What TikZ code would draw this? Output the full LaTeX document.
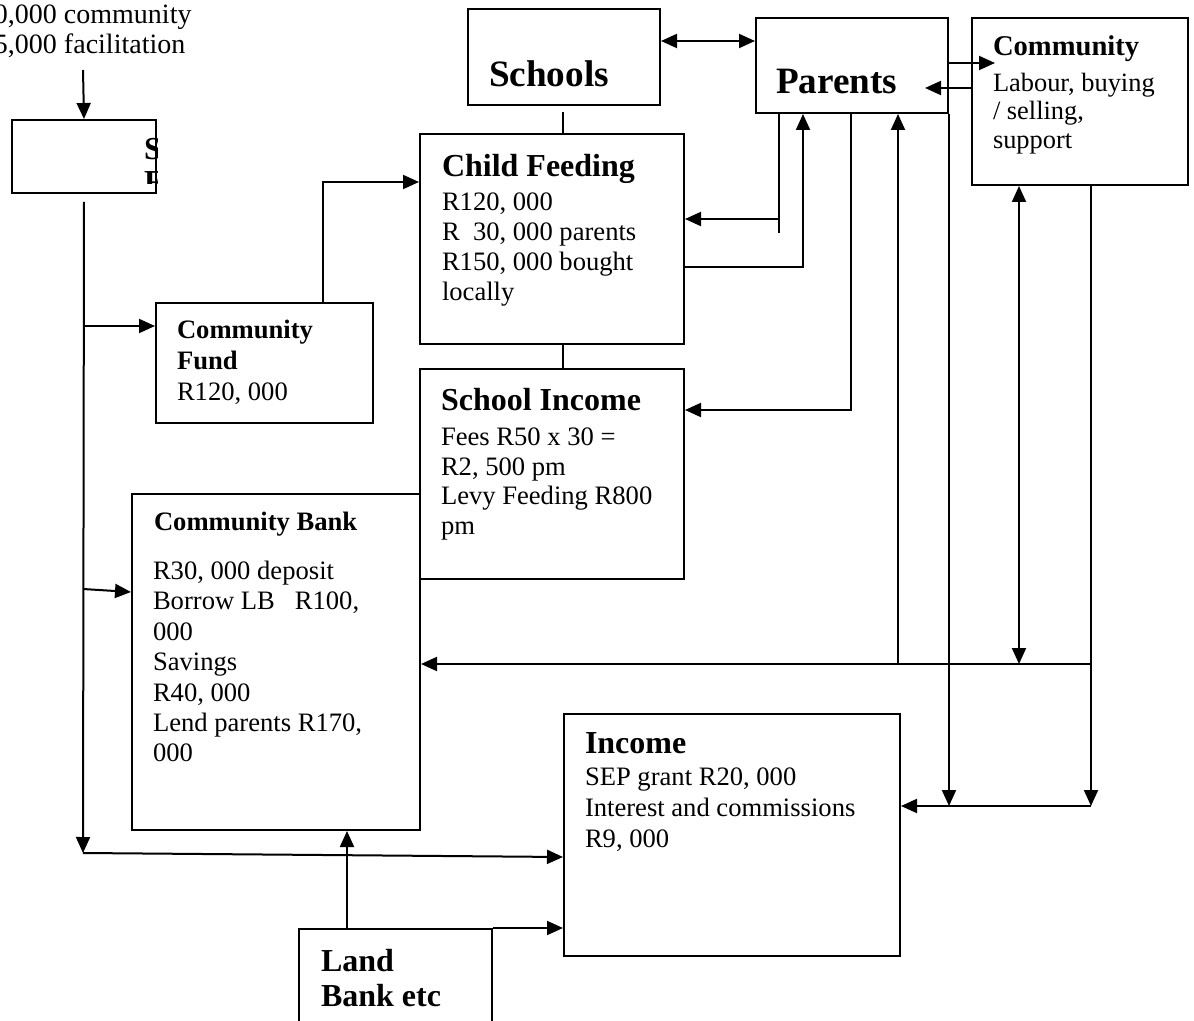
\documentclass[tikz,border=0pt]{standalone}
\usepackage{fontspec}
\setmainfont{Liberation Serif}
\usetikzlibrary{arrows.meta}

\begin{document}
\begin{tikzpicture}[x=0.5pt,y=-0.5pt,line width=1pt,>={Triangle[length=8pt,width=7pt]},
    box/.style={draw,rectangle,inner sep=0,anchor=north west},
    txt/.style={anchor=north west,inner sep=0,align=left,font=\fontsize{13.3}{15.2}\selectfont},
    hd/.style={anchor=north west,inner sep=0,align=left,font=\bfseries\fontsize{16}{17.5}\selectfont},
    bighd/.style={anchor=north west,inner sep=0,font=\bfseries\fontsize{18.6}{22}\selectfont},
    smallhd/.style={anchor=north west,inner sep=0,align=left,font=\bfseries\fontsize{13.3}{15.5}\selectfont}]

    \useasboundingbox (0,0) rectangle (1194,1021);
    \clip (0,0) rectangle (1194,1021);

    % boxes
    \node[box, minimum width=72pt, minimum height=36.5pt] (sbox) at (11,119) {};
    \node[box, minimum width=96pt, minimum height=48pt] (schools) at (467,8) {};
    \node[box, minimum width=96pt, minimum height=47.5pt] (parents) at (755,17) {};
    \node[box, minimum width=108pt, minimum height=83.5pt] (community) at (971,17) {};
    \node[box, minimum width=132pt, minimum height=105pt] (feeding) at (419,133) {};
    \node[box, minimum width=108.5pt, minimum height=60pt] (fund) at (155,302) {};
    \node[box, minimum width=132pt, minimum height=105pt] (schinc) at (419,368) {};
    \node[box, minimum width=144pt, minimum height=168pt] (bank) at (131,493) {};
    \node[box, minimum width=168pt, minimum height=121pt] (income) at (563,713) {};
    \node[box, minimum width=96.5pt, minimum height=60pt] (land) at (298,928) {};

    % texts
    \node[txt, font=\fontsize{14}{14.8}\selectfont] (donortxt) at (-7,4) {0,000 community\\5,000 facilitation};
    \begin{scope}
        \clip (sbox.north west) rectangle ([yshift=5pt]sbox.south east);
        \node[hd, font=\bfseries\fontsize{16}{16.5}\selectfont] (stxt) at (143,137) {S\\F};
    \end{scope}
    \node[bighd] (schoolstxt) at (488,60) {Schools};
    \node[bighd] (parentstxt) at (775,68) {Parents};
    \node[hd, font=\bfseries\fontsize{14.3}{16}\selectfont] (commhead) at (992,35) {Community};
    \node[txt, font=\fontsize{13.2}{14.3}\selectfont] (commtxt) at (992,72) {Labour, buying\\/ selling,\\support};
    \node[hd] (feedhead) at (441,153) {Child Feeding};
    \node[txt, font=\fontsize{13.3}{15}\selectfont] (feedtxt) at (441,192) {R120, 000\\R\ \ 30, 000 parents\\R150, 000 bought\\locally};
    \node[smallhd] (fundhead) at (176,319) {Community\\Fund};
    \node[txt] (fundtxt) at (176,382) {R120, 000};
    \node[hd] (schinchead) at (440,387) {School Income};
    \node[txt, font=\fontsize{13.3}{14.8}\selectfont] (schinctxt) at (440,427) {Fees R50 x 30 =\\R2, 500 pm\\Levy Feeding R800\\pm};
    \node[smallhd] (bankhead) at (153,511) {Community Bank};
    \node[txt] (banktxt) at (152,560) {R30, 000 deposit\\Borrow LB\ \ \ R100,\\000\\Savings\\R40, 000\\Lend parents R170,\\000};
    \node[hd] (incomehead) at (584,732) {Income};
    \node[txt, font=\fontsize{13.3}{15.5}\selectfont] (incometxt) at (584,767) {SEP grant R20, 000\\Interest and commissions\\R9, 000};
    \node[hd] (landtxt) at (320,948) {Land\\Bank etc};

    % junctions
    \coordinate (donor) at (83,70);
    \coordinate (bus) at (83,0);
    \coordinate (fundup) at (323,0);
    \coordinate (mid) at (563,0);
    \coordinate (pa) at (779,0);
    \coordinate (pb) at (803,0);
    \coordinate (pc) at (851,0);
    \coordinate (pd) at (898,0);
    \coordinate (ca) at (1019,0);
    \coordinate (cb) at (1091,0);
    \coordinate (landup) at (347,0);
    \coordinate (pstub) at (779,233);
    \coordinate (ya) at (0,41);
    \coordinate (yb) at (0,63);
    \coordinate (yc) at (0,88);
    \coordinate (yd) at (0,182);
    \coordinate (ye) at (0,219);
    \coordinate (yf) at (0,267);
    \coordinate (yg) at (0,410);
    \coordinate (yh) at (0,664);
    \coordinate (yi) at (0,806);
    \coordinate (yj) at (0,326);
    \coordinate (yk) at (0,589);
    \coordinate (yl) at (0,853);

    \draw[->] (donor) to (sbox.north);
    \draw[->] ([yshift=-4pt]sbox.south) to (bus |- yl);
    \draw[->] (bus |- yj) to (fund.west |- yj);
    \draw[->] (bus |- yk) to ([yshift=-1.5pt]bank.west |- yk);
    \draw[->] (bus |- yl) to ([yshift=-2pt]income.west |- yl);
    \draw[->] (fundup |- fund.north) |- (feeding.west |- yd);

    \draw[-] ([yshift=-3pt]mid |- schools.south) to (mid |- feeding.north);
    \draw[-] (mid |- feeding.south) to (mid |- schinc.north);
    \draw[<->] (schools.east |- ya) to (parents.west |- ya);
    \draw[->] (parents.east |- yb) to ([xshift=12pt]community.west |- yb);
    \draw[->] (community.west |- yc) to ([xshift=-12pt]parents.east |- yc);

    \draw[-] (pa |- parents.south) to (pstub);
    \draw[->] (pa |- ye) to (feeding.east |- ye);
    \draw[->] (feeding.east |- yf) -| (pb |- parents.south);
    \draw[->] (pc |- parents.south) |- (schinc.east |- yg);
    \draw[->] (pd |- yh) to (pd |- parents.south);
    \draw[->] (parents.south east) to (parents.south east |- yi);

    \draw[<->] (ca |- community.south) to (ca |- yh);
    \draw[->] (cb |- community.south) to (cb |- yi);
    \draw[->] (cb |- yh) to (bank.east |- yh);
    \draw[->] (cb |- yi) to (income.east |- yi);

    \draw[->] (landup |- land.north) to (landup |- bank.south);
    \draw[->] (land.north east) to (income.west |- land.north);

    ;
\end{tikzpicture}
\end{document}
